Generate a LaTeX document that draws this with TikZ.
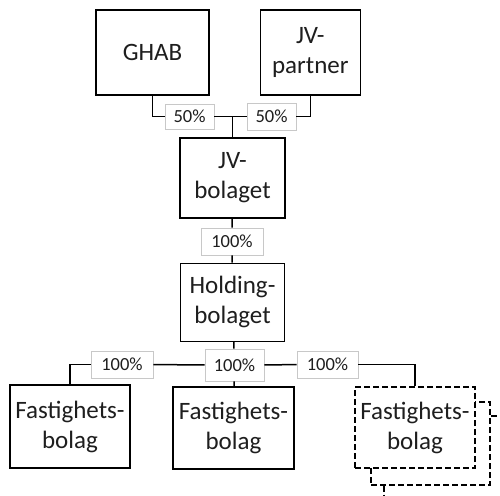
\documentclass[tikz,border=0pt]{standalone}
\usepackage{fontspec}
\setmainfont{Carlito}
\usepackage{xcolor}
\usetikzlibrary{positioning}
\definecolor{shareGray}{RGB}{200, 200, 200}
\definecolor{textDark}{RGB}{30, 30, 30}

\begin{document}
\begin{tikzpicture}[
        x=1pt, y=-1pt,
        company/.style={rectangle, draw=black, line width=1.3pt, fill=white, align=center, text=textDark, font=\fontsize{25}{30}\selectfont, inner sep=0pt, minimum width=120pt, minimum height=82pt},
        share/.style={rectangle, draw=shareGray, line width=0.9pt, fill=white, minimum width=49pt, minimum height=25pt, inner sep=0pt, text=textDark, font=\fontsize{18.5}{20}\selectfont},
        link/.style={line width=1.5pt, black},
        maybe/.style={dash pattern=on 6pt off 3pt}
    ]
        \useasboundingbox (0,0) rectangle (500,495);

        % Owners
        \node[company, minimum width=113pt, minimum height=85pt] (ghab) at (152.5,52.5) {GHAB};
        \node[company, minimum width=100pt, minimum height=85pt, right=50pt of ghab] (jvp) {JV-\\partner};
        \node[share] (p1) at (189.5,116.5) {50\%};
        \node[share, minimum height=27pt] (p2) at (271.5,116.5) {50\%};

        % JV and holding
        \node[company, minimum width=105pt, minimum height=80pt] (jvb) at (232.5,178) {JV-\\bolaget};
        \node[company, minimum width=104pt, minimum height=78pt, below=44pt of jvb] (hold) {Holding-\\bolaget};
        \node[share, minimum width=62pt, minimum height=27pt] (p3) at (232,241.5) {100\%};

        % Property companies
        \node[company, minimum height=83pt] (f1) at (70,426.5) {Fastighets-\\bolag};
        \node[company, minimum width=121pt] (f2) at (233.5,428) {Fastighets-\\bolag};
        \node[company, maybe, minimum width=119pt, minimum height=83pt] (f3b) at (430.5,443.5) {};
        \node[company, maybe, minimum height=81pt] (f3) at (415,427.5) {Fastighets-\\bolag};
        \node[share, minimum width=62pt, minimum height=27pt] (p4) at (122,364.5) {100\%};
        \node[share, minimum width=59pt, minimum height=32pt] (p5) at (234.5,365) {100\%};
        \node[share, minimum width=61pt, minimum height=27pt] (p6) at (327.5,364.5) {100\%};

        \coordinate (j1) at (jvb.north |- p1);

        \draw[link] (ghab) |- (p1);
        \draw[link] (jvp) |- (p2);
        \draw[link] (p1) -- (p2);
        \draw[link] (j1) -- (jvb);
        \draw[link] (jvb) -- (p3);
        \draw[link] (p3) -- (hold);
        \draw[link] (hold) -- (p5);
        \draw[link] (p5) -- (f2);
        \draw[link] (p5) -- (p4);
        \draw[link] (p5) -- (p6);
        \draw[link] (p4) -| (f1);
        \draw[link] (p6) -| (f3);
        \draw[link, maybe, line width=1.3pt] (f3b.east |- 0,416) -- ++(8,0);
        \draw[link, maybe, line width=1.3pt] (f3b.south -| 384,0) -- ++(0,10);
    \end{tikzpicture}
\end{document}
